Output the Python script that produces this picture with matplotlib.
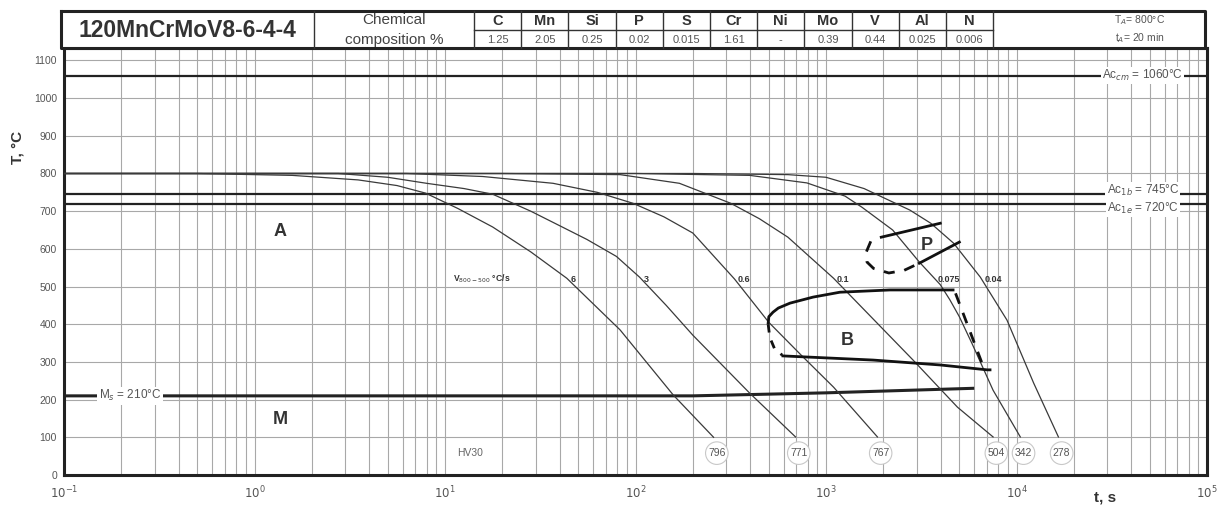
import numpy as np
import matplotlib
matplotlib.use('Agg')
import matplotlib.pyplot as plt
from matplotlib.ticker import LogLocator, NullFormatter, FixedLocator, FixedFormatter

plt.rcParams['font.family'] = ['Liberation Sans', 'DejaVu Sans']

# ---------------- data ----------------
STEEL = '120MnCrMoV8-6-4-4'
ELEMENTS = ['C', 'Mn', 'Si', 'P', 'S', 'Cr', 'Ni', 'Mo', 'V', 'Al', 'N']
CONTENTS = ['1.25', '2.05', '0.25', '0.02', '0.015', '1.61', '-', '0.39', '0.44', '0.025', '0.006']
AUSTENITIZING = ['T$_A$= 800°C', 't$_A$= 20 min']

RATES = ['6', '3', '0.6', '0.1', '0.075', '0.04']
HARDNESS = [796, 771, 767, 504, 342, 278]

c1_t = [0.1, 0.5, 1.58, 3.5, 5.6, 7.9, 11.7, 17.8, 28.2, 43.6, 83, 158, 257]
c1_T = [800, 800, 795, 783, 768, 748, 707, 658, 592, 522, 385, 212, 100]
c2_t = [0.1, 2.75, 5.0, 8.0, 12.6, 17.8, 28.2, 39.8, 55.6, 79.4, 105, 145, 200, 398, 692]
c2_T = [800, 800, 790, 774, 760, 745, 700, 662, 625, 580, 525, 450, 371, 217, 101]
c3_t = [0.1, 6.3, 15.8, 36.9, 63, 97, 141, 200, 331, 501, 741, 1096, 1862]
c3_T = [800, 800, 792, 774, 750, 721, 685, 642, 520, 405, 318, 233, 101]
c4_t = [0.1, 20, 83, 170, 316, 447, 631, 1096, 2864, 4898, 7534]
c4_T = [800, 800, 797, 774, 721, 680, 631, 522, 305, 180, 101]
c5_t = [0.1, 100, 398, 794, 1259, 1549, 2239, 3090, 3981, 4467, 5012, 5888, 7534, 10471]
c5_T = [800, 800, 795, 775, 740, 710, 650, 565, 505, 465, 420, 345, 225, 101]
c6_t = [0.1, 200, 631, 1000, 1585, 2754, 3548, 4677, 6457, 8913, 12303, 16596]
c6_T = [800, 800, 797, 790, 760, 703, 668, 615, 525, 411, 244, 101]
CURVES_T = [c1_t, c2_t, c3_t, c4_t, c5_t, c6_t]
CURVES_TEMP = [c1_T, c2_T, c3_T, c4_T, c5_T, c6_T]

ms_t = [0.1, 200, 1000, 5888]
ms_T = [210, 210, 218, 230]

bs_t = [497, 501, 527, 562, 647, 855, 1183, 2168, 4645]
bs_T = [403, 420, 432, 443, 456, 472, 485, 491, 491]
bl_t = [497, 507, 537, 589]
bl_T = [400, 365, 335, 318]
bf_t = [594, 1766, 3972, 7015, 7261]
bf_T = [316, 305, 292, 279, 279]
br_t = [4786, 6761]
br_T = [482, 282]

ps_t = [1718, 1622, 1641, 1778, 2138, 2570, 3090]
ps_T = [620, 590, 565, 548, 536, 543, 562]
pu_t = [1950, 3981]
pu_T = [631, 668]
pl_t = [3090, 5012]
pl_T = [562, 618]

ACCM, AC1B, AC1E, MS = 1060, 745, 720, 210
Y_TICKS = list(range(0, 1101, 100))
X_TICKS = [1e-1, 1e0, 1e1, 1e2, 1e3, 1e4, 1e5]
X_LABELS = ['$10^{-1}$', '$10^{0}$', '$10^{1}$', '$10^{2}$', '$10^{3}$', '$10^{4}$', '$10^{5}$']

# ---------------- figure ----------------
W, H = 1219, 514
fig = plt.figure(figsize=(W / 100, H / 100), dpi=100)
ax = fig.add_axes([64 / W, 39 / H, 1143 / W, 427 / H])
ax.set_xscale('log')
ax.set_xlim(0.1, 1e5)
ax.set_ylim(0, 1133)

grid_c = '#a8a8a8'
ax.xaxis.set_major_locator(FixedLocator(X_TICKS))
ax.xaxis.set_major_formatter(FixedFormatter(X_LABELS))
ax.xaxis.set_minor_locator(LogLocator(base=10, subs=np.arange(2, 10), numticks=20))
ax.xaxis.set_minor_formatter(NullFormatter())
ax.set_yticks(Y_TICKS)
ax.grid(True, which='major', axis='both', color=grid_c, lw=0.8)
ax.grid(True, which='minor', axis='x', color=grid_c, lw=0.8)
ax.set_axisbelow(True)
ax.tick_params(which='both', length=0)
ax.tick_params(axis='y', labelsize=7.5, labelcolor='#555555', pad=5)
ax.tick_params(axis='x', labelsize=8.5, labelcolor='#555555', pad=7)
for s in ax.spines.values():
    s.set_linewidth(2.2)
    s.set_color('#222222')

# horizontal reference lines
for val, lab, ty in [(ACCM, 'Ac$_{cm}$ = %d°C' % ACCM, ACCM),
                     (AC1B, 'Ac$_{1b}$ = %d°C' % AC1B, AC1B + 9),
                     (AC1E, 'Ac$_{1e}$ = %d°C' % AC1E, AC1E - 12)]:
    ax.axhline(val, color='#222222', lw=1.6, zorder=3)
    ax.text(4.6e4, ty, lab, ha='center', va='center', fontsize=8.5, color='#555555', zorder=5,
            bbox=dict(boxstyle='square,pad=0.1', fc='white', ec='none'))

# cooling curves
for tt, TT, rate, hv in zip(CURVES_T, CURVES_TEMP, RATES, HARDNESS):
    ax.plot(tt, TT, color='#3a3a3a', lw=0.9, zorder=4)
    lt = np.log10(tt)
    x520 = 10 ** np.interp(520, TT[::-1], lt[::-1])
    ax.annotate(rate, (x520, 520), xytext=(2, 0), textcoords='offset points',
                ha='left', va='center', fontsize=6.5, fontweight='bold', color='#333333', zorder=6)
    ax.text(tt[-1] * 1.04, 58, str(hv), ha='center', va='center', fontsize=7.5, color='#555555', zorder=6,
            bbox=dict(boxstyle='circle,pad=0.25', fc='white', ec='#c8c8c8', lw=0.8))

ax.text(15.5, 522, 'V$_{800-500}$ °C/s', ha='center', va='center', fontsize=6.2, fontweight='bold',
        color='#333333')
ax.text(13.5, 58, 'HV30', ha='center', va='center', fontsize=7.5, color='#666666')

# Ms line
ax.plot(ms_t, ms_T, color='#222222', lw=2.2, zorder=3)
ax.text(0.222, MS, 'M$_s$ = %d°C' % MS, ha='center', va='center', fontsize=8.5, color='#555555', zorder=5,
        bbox=dict(boxstyle='square,pad=0.12', fc='white', ec='none'))

# bainite region
ax.plot(bs_t, bs_T, color='#111111', lw=2.0, zorder=5)
ax.plot(bf_t, bf_T, color='#111111', lw=2.0, zorder=5)
ax.plot(bl_t, bl_T, color='#111111', lw=2.0, dashes=(3, 3), zorder=5)
ax.plot(br_t, br_T, color='#111111', lw=2.0, dashes=(4, 3.5), zorder=5)

# pearlite region
ax.plot(ps_t, ps_T, color='#111111', lw=2.0, dashes=(4, 3.5), zorder=5)
ax.plot(pu_t, pu_T, color='#111111', lw=2.0, zorder=5)
ax.plot(pl_t, pl_T, color='#111111', lw=2.0, zorder=5)

# phase labels
for x, y, s in [(1.36, 645, 'A'), (1290, 358, 'B'), (3390, 610, 'P'), (1.36, 146, 'M')]:
    ax.text(x, y, s, ha='center', va='center', fontsize=13, fontweight='bold', color='#333333', zorder=6)

# axis titles
fig.text(18 / W, 1 - 147 / H, 'T, °C', rotation=90, ha='center', va='center', fontsize=11,
         fontweight='bold', color='#333333')
fig.text(1105 / W, 1 - 498 / H, 't, s', ha='center', va='center', fontsize=11, fontweight='bold',
         color='#333333')

# ---------------- header table ----------------
hx = fig.add_axes([0, 0, 1, 1], zorder=10)
hx.set_xlim(0, W)
hx.set_ylim(H, 0)
hx.axis('off')
hx.patch.set_alpha(0)

top, mid, bot = 11, 30, 48
left, c_title, c_chem, right = 61, 314, 474, 1205
cw = 47.2
col_edges = [c_chem + cw * k for k in range(len(ELEMENTS) + 1)]

hx.fill_between([left, right], top, bot, color='white', zorder=0)
lc = '#333333'
hx.plot([left, right, right, left, left], [top, top, bot, bot, top], color='#222222', lw=2.2)
for xe in [c_title, c_chem] + col_edges[1:]:
    hx.plot([xe, xe], [top, bot], color=lc, lw=1.0)
hx.plot([col_edges[0], col_edges[-1]], [mid, mid], color=lc, lw=1.0)

hx.text((left + c_title) / 2, (top + bot) / 2 + 1, STEEL, ha='center', va='center', fontsize=16.5,
        fontweight='bold', color='#333333')
hx.text((c_title + c_chem) / 2, 20, 'Chemical', ha='center', va='center', fontsize=11, color='#444444')
hx.text((c_title + c_chem) / 2, 40, 'composition %', ha='center', va='center', fontsize=11, color='#444444')
for i, (el, cval) in enumerate(zip(ELEMENTS, CONTENTS)):
    xc = (col_edges[i] + col_edges[i + 1]) / 2
    hx.text(xc, 21, el, ha='center', va='center', fontsize=10.5, fontweight='bold', color='#333333')
    hx.text(xc, 40, cval, ha='center', va='center', fontsize=8, color='#555555')
hx.text(1140, 20, AUSTENITIZING[0], ha='center', va='center', fontsize=7.5, color='#555555')
hx.text(1140, 38, AUSTENITIZING[1], ha='center', va='center', fontsize=7.5, color='#555555')

fig.savefig('out.png', dpi=100)
